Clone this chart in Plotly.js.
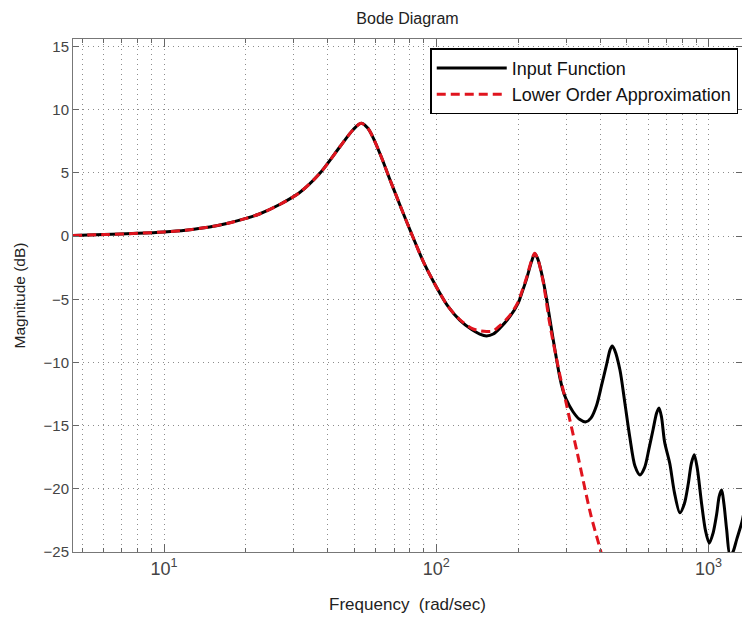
<!DOCTYPE html>
<html>
<head>
<meta charset="utf-8">
<script src="https://cdn.plot.ly/plotly-3.0.1.min.js"></script>
<style>html,body{margin:0;padding:0;background:#fff;}#chart{width:742px;height:619px;}</style>
</head>
<body>
<div id="chart"></div>
<script>
// Frequency (rad/sec) and magnitude (dB)
const inputFreq = [4.63, 6, 8, 10, 12, 14.7, 17, 20, 22.4, 26.6, 31.5, 37.3, 44.2, 49.4, 53, 56, 58.6, 63, 67.5, 71, 75.5, 82, 90, 100, 110, 122, 135, 144.5, 153, 162, 171, 186, 200, 207, 214.6, 224, 230, 236, 247, 258, 269, 284.5, 292, 300, 318, 336, 354.5, 370, 388, 405, 423, 435, 443, 452, 473, 493, 514, 537, 560, 583, 605, 626, 645, 658, 672, 690, 721, 750, 785, 815, 843, 865, 887, 910, 944, 975, 1007, 1040, 1072, 1095, 1118, 1140, 1166, 1200, 1230, 1270, 1328, 1360];
const inputMag  = [0.05, 0.12, 0.22, 0.33, 0.47, 0.72, 1.0, 1.4, 1.75, 2.5, 3.45, 4.95, 7.05, 8.4, 8.93, 8.55, 7.8, 6.2, 4.5, 3.3, 1.85, -0.05, -2.1, -4.0, -5.5, -6.65, -7.4, -7.75, -7.9, -7.75, -7.3, -6.4, -5.3, -4.4, -3.4, -2.0, -1.4, -1.8, -3.5, -5.8, -8.2, -11.2, -12.2, -12.9, -13.9, -14.5, -14.7, -14.4, -13.4, -11.8, -10.1, -9.0, -8.7, -9.0, -10.6, -13.2, -15.9, -18.2, -18.9, -18.3, -16.8, -15.3, -14.0, -13.6, -14.3, -16.3, -18.0, -20.3, -21.9, -21.2, -19.6, -18.0, -17.3, -18.4, -21.2, -23.3, -24.3, -23.5, -22.0, -20.6, -20.1, -21.2, -23.2, -25.3, -25.0, -24.0, -22.6, -21.5];

const approxFreq = [4.63, 6, 8, 10, 12, 14.7, 17, 20, 22.4, 26.6, 31.5, 37.3, 44.2, 49.4, 53, 56, 58.6, 63, 67.5, 71, 75.5, 82, 90, 100, 110, 122, 135, 145, 153, 162, 171, 186, 200, 207, 214.6, 224, 230, 236, 247, 261, 284.5, 300, 310, 330, 347, 370, 405, 440];
const approxMag  = [0.05, 0.12, 0.22, 0.33, 0.47, 0.72, 1.0, 1.4, 1.75, 2.5, 3.45, 4.95, 7.05, 8.4, 8.93, 8.55, 7.8, 6.2, 4.5, 3.3, 1.85, -0.05, -2.1, -4.0, -5.5, -6.6, -7.3, -7.5, -7.55, -7.5, -7.1, -6.3, -5.2, -4.3, -3.3, -1.9, -1.35, -1.8, -3.6, -6.9, -11.0, -13.2, -14.6, -17.2, -19.4, -22.1, -25.2, -28.6];

const seriesNames = ['Input Function', 'Lower Order Approximation'];
const yTicks = [-25, -20, -15, -10, -5, 0, 5, 10, 15];
const xMajorTicks = [10, 100, 1000];
const xMajorText = ['10<sup>1</sup>', '10<sup>2</sup>', '10<sup>3</sup>'];

const minorVals = [];
[1, 10, 100, 1000].forEach(d => { for (let k = 2; k <= 9; k++) minorVals.push(k * d); });

const font = 'Liberation Sans, Arial, Helvetica, sans-serif';
const gridColor = '#8c8c8c';
const gridDash = '1px,4px';
const gridStyle = {showgrid: true, gridcolor: gridColor, gridwidth: 1, griddash: gridDash};

const traces = [
  {x: inputFreq, y: inputMag, name: seriesNames[0], type: 'scatter', mode: 'lines',
   line: {color: '#000000', width: 3, shape: 'spline', smoothing: 0.8}},
  {x: approxFreq, y: approxMag, name: seriesNames[1], type: 'scatter', mode: 'lines',
   line: {color: '#e0141e', width: 3, dash: '9px,5px', shape: 'spline', smoothing: 0.8}}
];

const layout = {
  width: 742, height: 619,
  margin: {l: 73, r: 0, t: 39, b: 67},
  paper_bgcolor: '#ffffff', plot_bgcolor: '#ffffff',
  font: {family: font, color: '#222'},
  title: {text: 'Bode Diagram', font: {family: font, size: 16, color: '#222'},
          x: 0.5, xref: 'paper', xanchor: 'center', y: 1 - 18/619, yanchor: 'middle'},
  showlegend: true,
  legend: {x: 0.534, y: 0.982, xanchor: 'left', yanchor: 'top',
           bgcolor: '#ffffff', bordercolor: '#000000', borderwidth: 1.5,
           font: {family: font, size: 18, color: '#111'}, itemwidth: 70, tracegroupgap: 0},
  xaxis: Object.assign({
    type: 'log', range: [Math.log10(4.63), Math.log10(1328)],
    tickvals: xMajorTicks, ticktext: xMajorText,
    tickfont: {family: font, size: 18, color: '#444'},
    ticks: 'inside', ticklen: 8, tickcolor: '#666', tickwidth: 1,
    showline: true, linecolor: '#777', linewidth: 1, mirror: 'ticks', zeroline: false,
    title: {text: 'Frequency\u00a0 (rad/sec)', font: {family: font, size: 17, color: '#222'}, standoff: 20},
    minor: {tickvals: minorVals, ticks: 'inside', ticklen: 4, tickcolor: '#666',
            showgrid: true, gridcolor: gridColor, gridwidth: 1, griddash: gridDash}
  }, gridStyle),
  yaxis: Object.assign({
    range: [-25, 15.6], tickvals: yTicks,
    tickfont: {family: font, size: 15, color: '#444'},
    ticks: 'inside', ticklen: 6, tickcolor: '#666', tickwidth: 1,
    showline: true, linecolor: '#777', linewidth: 1, mirror: 'ticks', zeroline: false,
    title: {text: 'Magnitude (dB)', font: {family: font, size: 15.5, color: '#222'}, standoff: 14}
  }, gridStyle)
};

Plotly.newPlot('chart', traces, layout, {displayModeBar: false, staticPlot: true});
</script>
</body>
</html>
